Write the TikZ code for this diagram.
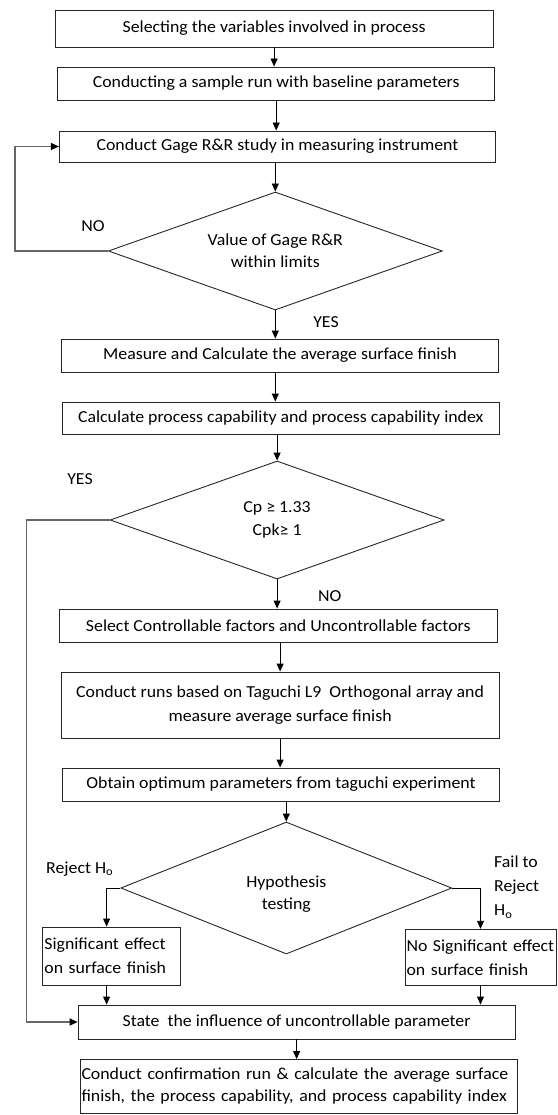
\documentclass[tikz,border=0pt]{standalone}
\usepackage{fontspec}
\setmainfont{Carlito}[FakeStretch=1.06]
\usetikzlibrary{arrows.meta,shapes.geometric}
\begin{document}
\begin{tikzpicture}[x=1pt,y=-1pt,
  txt/.style={font=\fontsize{16.8}{22}\selectfont, text=black},
  box/.style={txt, draw=black!85, line width=0.9pt, rectangle, inner sep=0pt, align=center},
  dia/.style={draw=black!85, line width=0.9pt, diamond, inner sep=0pt},
  dtxt/.style={txt, align=center, inner sep=0pt},
  arr/.style={draw=black, line width=0.9pt, -{Triangle[length=8pt,width=7pt]}},
  fb/.style={draw=black!60, line width=1.3pt, -{Triangle[length=8pt,width=7pt,color=black]}},
  lbl/.style={txt, inner sep=0pt}]
\useasboundingbox (0,0) rectangle (557,1115);

\node[box, minimum width=438pt, minimum height=37pt] (b1) at (274.1,28.5) {Selecting the variables involved in process};
\node[box, minimum width=436.6pt, minimum height=33pt] (b2) at (276.2,83.5) {Conducting a sample run with baseline parameters};
\node[box, minimum width=436.3pt, minimum height=31pt] (b3) at (277.5,146.5) {Conduct Gage R\&R study in measuring instrument};
\node[dia, minimum width=334pt, minimum height=118pt,
  label={[dtxt]center:Value of Gage R\&R\\within limits}] (d1) at (275.3,251) {};
\node[box, minimum width=437.7pt, minimum height=33pt] (b4) at (280,355.5) {Measure and Calculate the average surface finish};
\node[box, minimum width=436.6pt, minimum height=32pt] (b5) at (280.8,418) {Calculate process capability and process capability index};
\node[dia, minimum width=334pt, minimum height=118pt,
  label={[dtxt, font=\fontsize{16.8}{23}\selectfont]center:Cp ≥ 1.33\\Cpk≥ 1}] (d2) at (277.1,520) {};
\node[box, minimum width=438pt, minimum height=33pt] (b6) at (278.3,625.5) {Select Controllable factors and Uncontrollable factors};
\node[box, minimum width=438pt, minimum height=66pt, font=\fontsize{16.8}{23.5}\selectfont] (b7) at (280.1,705) {Conduct runs based on Taguchi L9\ \ Orthogonal array and\\measure average surface finish};
\node[box, minimum width=436.2pt, minimum height=33pt] (b8) at (281,784.5) {Obtain optimum parameters from taguchi experiment};
\node[dia, minimum width=331pt, minimum height=132pt,
  label={[dtxt, yshift=-6pt]center:Hypothesis\\testing}] (d3) at (286.3,888) {};
\node[box, minimum width=137.5pt, minimum height=58pt, align=left, text width=134pt, font=\fontsize{16.8}{24}\selectfont] (bl) at (111.4,956) {\mbox{Significant effect}\\\mbox{on surface finish}};
\node[box, minimum width=151pt, minimum height=56.5pt, align=left, text width=148pt, font=\fontsize{16.8}{24}\selectfont] (br) at (480.5,957.5) {\mbox{No Significant effect}\\\mbox{on surface finish}};
\node[box, minimum width=437pt, minimum height=34pt] (bs) at (296.6,1022) {State\ \ the influence of uncontrollable parameter};
\node[box, minimum width=437pt, minimum height=54pt, align=left, text width=434pt] (bf) at (298.5,1086.5) {\mbox{Conduct confirmation run \& calculate the average surface}\\\mbox{finish, the process capability, and process capability index}};

\node[lbl] (no1) at (93,226) {NO};
\node[lbl] (yes1) at (326,322) {YES};
\node[lbl] (yes2) at (80,479) {YES};
\node[lbl] (no2) at (329.7,596) {NO};
\node[lbl, anchor=west] (rej) at (46,869) {Reject H\textsubscript{o}};
\node[lbl, anchor=west, align=left, font=\fontsize{16.8}{24}\selectfont] (fail) at (494,887) {Fail to\\Reject\\H\textsubscript{o}};

\coordinate (l1) at (15,0);
\coordinate (l2) at (26.6,0);
\coordinate (rl) at (106.6,0);

\draw[arr] (b1.south) -- (b1.south |- b2.north);
\draw[arr] (b2.south) -- (b2.south |- b3.north);
\draw[arr] (b3.south -| d1.north) -- (d1.north);
\draw[arr] (d1.south) -- (d1.south |- b4.north);
\draw[arr] (b4.south -| d1.south) -- (d1.south |- b5.north);
\draw[arr] (b5.south -| d2.north) -- (d2.north);
\draw[arr] (d2.south) -- (d2.south |- b6.north);
\draw[arr] (b6.south -| b7.north) -- (b7.north);
\draw[arr] (b7.south) -- (b7.south |- b8.north);
\draw[arr] (b8.south -| d3.north) -- (d3.north);
\draw[arr] (d3.west) -| (rl |- bl.north);
\draw[arr] (d3.east) -| (br.north);
\draw[arr] (rl |- bl.south) -- (rl |- bs.north);
\draw[arr] (br.south) -- (br.south |- bs.north);
\draw[arr] (bs.south) -- (bs.south |- bf.north);
\draw[fb] (d1.west) -- (l1 |- d1.west) |- (b3.west);
\draw[fb] (d2.west) -- (l2 |- d2.west) |- (bs.west);
\end{tikzpicture}
\end{document}
